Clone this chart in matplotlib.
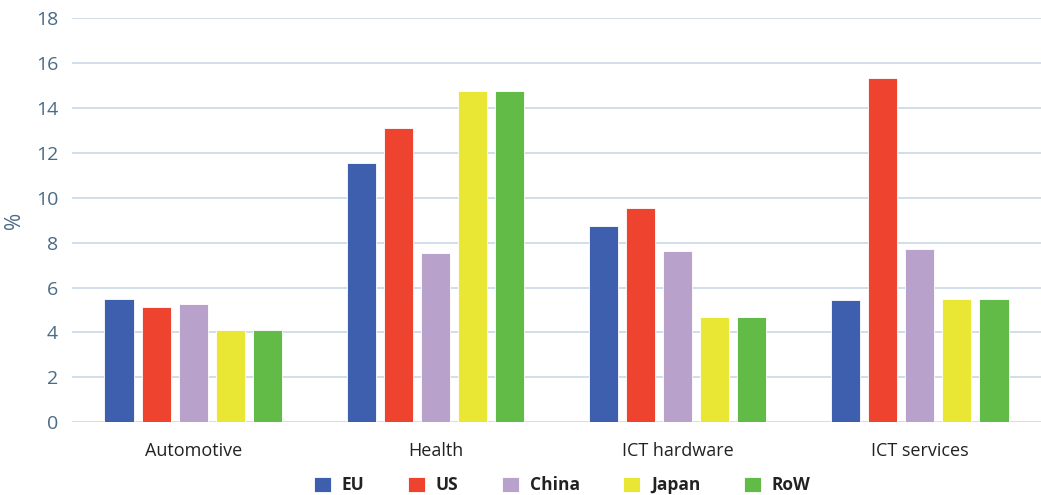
import matplotlib
matplotlib.use("Agg")
import matplotlib.pyplot as plt
import numpy as np

categories = ["Automotive", "Health", "ICT hardware", "ICT services"]
regions = ["EU", "US", "China", "Japan", "RoW"]
eu = [5.49, 11.55, 8.73, 5.45]
us = [5.14, 13.11, 9.54, 15.33]
china = [5.27, 7.55, 7.62, 7.71]
japan = [4.11, 14.76, 4.69, 5.49]
row = [4.11, 14.76, 4.69, 5.49]
yticks = [0, 2, 4, 6, 8, 10, 12, 14, 16, 18]

series = [eu, us, china, japan, row]
colors = ["#3d5fad", "#ee432e", "#b8a2cb", "#e9e733", "#62bb46"]

plt.rcParams["font.family"] = ["Open Sans", "DejaVu Sans"]

fig = plt.figure(figsize=(10.41, 4.95), dpi=100)
ax = fig.add_axes([0.0692, 0.147, 0.9308, 0.816])

x = np.arange(len(categories))
pitch = 0.153
width = 0.12
for i, (vals, name, col) in enumerate(zip(series, regions, colors)):
    ax.bar(x + (i - 2) * pitch, vals, width=width, color=col, label=name,
           edgecolor="white", linewidth=0.6, zorder=3)

ax.set_xlim(-0.5, 3.5)
ax.set_ylim(0, 18)
ax.set_yticks(yticks)
ax.set_xticks(x)
ax.set_xticklabels(categories, fontsize=13, color="#222222")
ax.tick_params(axis="y", length=0, labelsize=14, labelcolor="#4a6a85", pad=10)
ax.tick_params(axis="x", length=0, pad=14)
ax.grid(axis="y", color="#c9d9e7", linewidth=1.2, zorder=0)
for s in ax.spines.values():
    s.set_visible(False)
ax.set_ylabel("%", fontsize=15, color="#4a6a85", labelpad=8)

leg = fig.legend(loc="lower center", bbox_to_anchor=(0.540, -0.03), ncol=5,
                 frameon=False, handlelength=1.0, handleheight=1.0,
                 handletextpad=0.6, columnspacing=2.5,
                 prop={"size": 12.5, "weight": "bold"})
for t in leg.get_texts():
    t.set_color("#222222")

fig.savefig("out.png", dpi=100)
